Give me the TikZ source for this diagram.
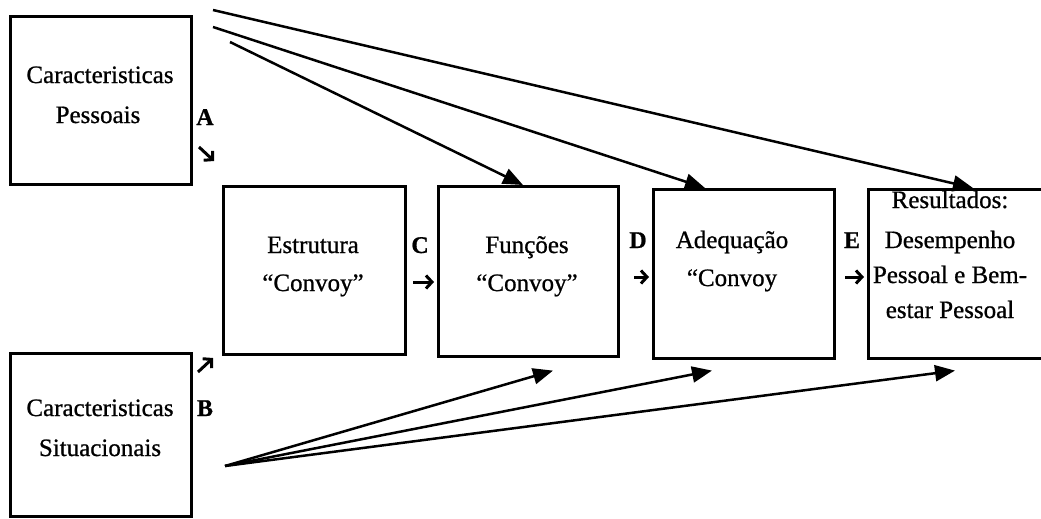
\documentclass[tikz,border=0pt]{standalone}
\usepackage{fontspec}
\setmainfont{Liberation Serif}[FakeBold=0.8]
\newfontfamily\heavyfont{Liberation Serif}[FakeBold=0.8]
\usetikzlibrary{arrows.meta}
\begin{document}
\begin{tikzpicture}[x=1pt,y=-1pt,
  box/.style={draw, line width=2.6pt, inner sep=0pt, anchor=north west},
  txt/.style={font=\heavyfont\fontsize{25}{30}\selectfont, inner sep=0pt, anchor=base},
  lbl/.style={font=\bfseries\fontsize{24}{28}\selectfont, inner sep=0pt, anchor=base},
  link/.style={line width=2.5pt, -{Triangle[length=20pt,width=16pt]}},
  tinyarrow/.style={line width=3pt, -{Straight Barb[length=6pt,width=13pt]}}]
\useasboundingbox (0,0) rectangle (1041,519);
\fill[white] (0,0) rectangle (1041,519);
\clip (0,0) rectangle (1041,519);

% boxes
\node[box, minimum width=181pt, minimum height=168pt] (P) at (9,15) {};
\node[box, minimum width=181pt, minimum height=163pt] (S) at (9,352) {};
\node[box, minimum width=182pt, minimum height=168pt] (Est) at (222,185) {};
\node[box, minimum width=180pt, minimum height=170pt] (F) at (437,185) {};
\node[box, minimum width=181pt, minimum height=169pt] (Ad) at (652,188) {};
\node[box, minimum width=200pt, minimum height=169pt] (R) at (867,188) {};

% texts
\node[txt] (p1) at (100,83) {Caracteristicas};
\node[txt] (p2) at (98,123) {Pessoais};
\node[txt] (s1) at (100,416) {Caracteristicas};
\node[txt] (s2) at (100,456) {Situacionais};
\node[txt] (e1) at (313,253) {Estrutura};
\node[txt] (e2) at (313,291) {“Convoy”};
\node[txt] (f1) at (527,253) {Funções};
\node[txt] (f2) at (527,291) {“Convoy”};
\node[txt] (a1) at (732,248) {Adequação};
\node[txt] (a2) at (732,286) {“Convoy};
\node[txt] (r1) at (950,208) {Resultados:};
\node[txt] (r2) at (950,248) {Desempenho};
\node[txt] (r3) at (950,283) {Pessoal e Bem-};
\node[txt] (r4) at (950,318) {estar Pessoal};

% letters
\node[lbl] (A) at (205,125) {A};
\node[lbl] (B) at (205,416) {B};
\node[lbl] (C) at (420,253) {C};
\node[lbl] (D) at (638,248) {D};
\node[lbl] (E) at (852,248) {E};

% small arrows
\coordinate (a0) at (199,147); \coordinate (a9) at (214,161);
\coordinate (b0) at (198,372); \coordinate (b9) at (213,358);
\coordinate (c0) at (413,282); \coordinate (c9) at (434,282);
\coordinate (d0) at (634,277); \coordinate (d9) at (649,277);
\coordinate (e0) at (845,277); \coordinate (e9) at (864,277);
\draw[tinyarrow] (a0) -- (a9);
\draw[tinyarrow] (b0) -- (b9);
\draw[tinyarrow] (c0) -- (c9);
\draw[tinyarrow] (d0) -- (d9);
\draw[tinyarrow] (e0) -- (e9);

% connectors from personal characteristics
\coordinate (t1) at (213,10);
\coordinate (t2) at (213,27);
\coordinate (t3) at (230,42);
\draw[link] (t1) -- ([xshift=106pt]R.north west);
\draw[link] (t2) -- ([xshift=53pt]Ad.north west);
\draw[link] (t3) -- ([xshift=86pt]F.north west);

% connectors from situational characteristics
\coordinate (sb) at (225,466);
\draw[link] (sb) -- ([xshift=116pt,yshift=-13pt]F.south west);
\draw[link] (sb) -- ([xshift=60pt,yshift=-11pt]Ad.south west);
\draw[link] (sb) -- ([xshift=88pt,yshift=-11pt]R.south west);
\end{tikzpicture}
\end{document}
